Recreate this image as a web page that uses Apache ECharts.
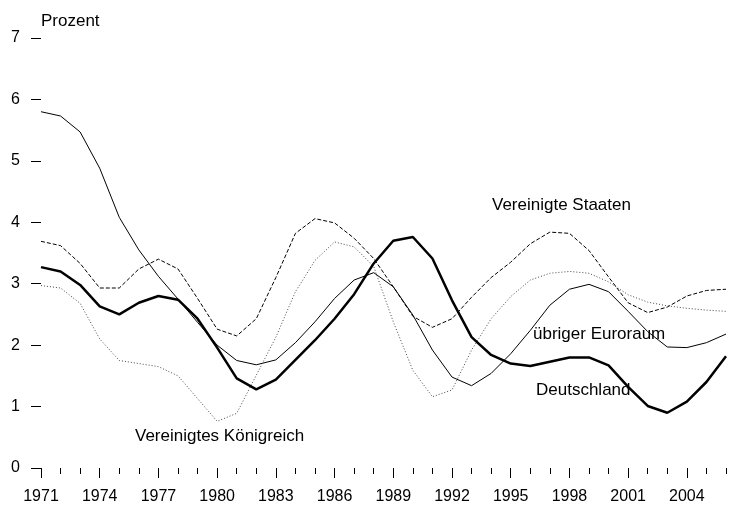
<!DOCTYPE html>
<html>
<head>
<meta charset="utf-8">
<script src="https://cdn.jsdelivr.net/npm/echarts@6/dist/echarts.min.js"></script>
<style>
  html, body {margin: 0; padding: 0; background: #fff;}
  #chart {width: 739px; height: 506px;}
</style>
</head>
<body>
<div id="chart"></div>
<script>
// Jahre 1971 - 2006
const years = []
for (let y = 1971; y <= 2006; y++) years.push(String(y))

const yTicks = [0, 1, 2, 3, 4, 5, 6, 7]

const deutschland = [3.27, 3.20, 2.98, 2.63, 2.50, 2.69, 2.80, 2.74, 2.43, 1.96,
    1.46, 1.28, 1.44, 1.76, 2.08, 2.43, 2.83, 3.33, 3.70, 3.76,
    3.41, 2.73, 2.13, 1.84, 1.70, 1.66, 1.73, 1.80, 1.80, 1.67,
    1.32, 1.01, 0.90, 1.08, 1.40, 1.82]

const euroraum = [5.80, 5.73, 5.47, 4.88, 4.08, 3.55, 3.12, 2.75, 2.37, 2.00,
    1.75, 1.68, 1.76, 2.04, 2.38, 2.76, 3.06, 3.18, 2.95, 2.49,
    1.92, 1.48, 1.34, 1.54, 1.86, 2.24, 2.65, 2.91, 2.99, 2.87,
    2.55, 2.22, 1.97, 1.96, 2.04, 2.18]

const staaten = [3.69, 3.62, 3.33, 2.93, 2.93, 3.24, 3.40, 3.24, 2.76, 2.26,
    2.15, 2.43, 3.10, 3.82, 4.06, 3.99, 3.74, 3.41, 2.95, 2.47,
    2.29, 2.43, 2.78, 3.10, 3.35, 3.65, 3.84, 3.82, 3.54, 3.11,
    2.69, 2.53, 2.62, 2.80, 2.89, 2.91]

const koenigreich = [2.97, 2.93, 2.68, 2.10, 1.75, 1.70, 1.65, 1.50, 1.13, 0.76,
    0.89, 1.51, 2.13, 2.87, 3.38, 3.68, 3.60, 3.28, 2.38, 1.59,
    1.16, 1.27, 1.92, 2.43, 2.79, 3.06, 3.17, 3.20, 3.17, 3.03,
    2.82, 2.70, 2.64, 2.60, 2.57, 2.55]

const font = '"Liberation Sans", Arial, sans-serif'

const chart = echarts.init(document.getElementById('chart'))

const xBase = {
    type: 'category',
    data: years,
    boundaryGap: false,
    position: 'bottom',
    axisLine: {show: false},
    splitLine: {show: false}
}

chart.setOption({
    animation: false,
    grid: {left: 41, right: 13, top: 38, bottom: 38},
    xAxis: [
        // kleine Striche, jedes Jahr
        Object.assign({}, xBase, {
            axisTick: {show: true, interval: 0, length: 6, lineStyle: {color: '#000', width: 1}},
            axisLabel: {show: false}
        }),
        // große Striche + Beschriftung, alle 3 Jahre
        Object.assign({}, xBase, {
            axisTick: {show: true, interval: 2, length: 10, lineStyle: {color: '#000', width: 1}},
            axisLabel: {show: true, interval: 2, margin: 21, color: '#000', fontSize: 16, fontFamily: font}
        })
    ],
    yAxis: {
        type: 'value',
        min: yTicks[0],
        max: yTicks[yTicks.length - 1],
        interval: 1,
        name: 'Prozent',
        nameLocation: 'end',
        nameGap: 8,
        nameTextStyle: {align: 'left', color: '#000', fontSize: 17, fontFamily: font},
        axisLine: {show: false},
        axisTick: {show: true, length: 10, lineStyle: {color: '#000', width: 1}},
        axisLabel: {margin: 21, color: '#000', fontSize: 16, fontFamily: font},
        splitLine: {show: false}
    },
    series: [
        {
            name: 'Deutschland', type: 'line', data: deutschland, symbol: 'none',
            lineStyle: {color: '#000', width: 2.5, type: 'solid'}, z: 5
        },
        {
            name: 'übriger Euroraum', type: 'line', data: euroraum, symbol: 'none',
            lineStyle: {color: '#000', width: 1, type: 'solid'}
        },
        {
            name: 'Vereinigte Staaten', type: 'line', data: staaten, symbol: 'none',
            lineStyle: {color: '#000', width: 1, type: [4, 2]}
        },
        {
            name: 'Vereinigtes Königreich', type: 'line', data: koenigreich, symbol: 'none',
            lineStyle: {color: '#444', width: 1, type: [1, 2]}
        }
    ],
    graphic: [
        {type: 'text', style: {text: 'Vereinigte Staaten', x: 492, y: 205, verticalAlign: 'middle', font: '17px ' + font, fill: '#000'}},
        {type: 'text', style: {text: 'übriger Euroraum', x: 533, y: 334, verticalAlign: 'middle', font: '17px ' + font, fill: '#000'}},
        {type: 'text', style: {text: 'Deutschland', x: 536, y: 390, verticalAlign: 'middle', font: '17px ' + font, fill: '#000'}},
        {type: 'text', style: {text: 'Vereinigtes Königreich', x: 135, y: 436, verticalAlign: 'middle', font: '17px ' + font, fill: '#000'}}
    ]
})
</script>
</body>
</html>
